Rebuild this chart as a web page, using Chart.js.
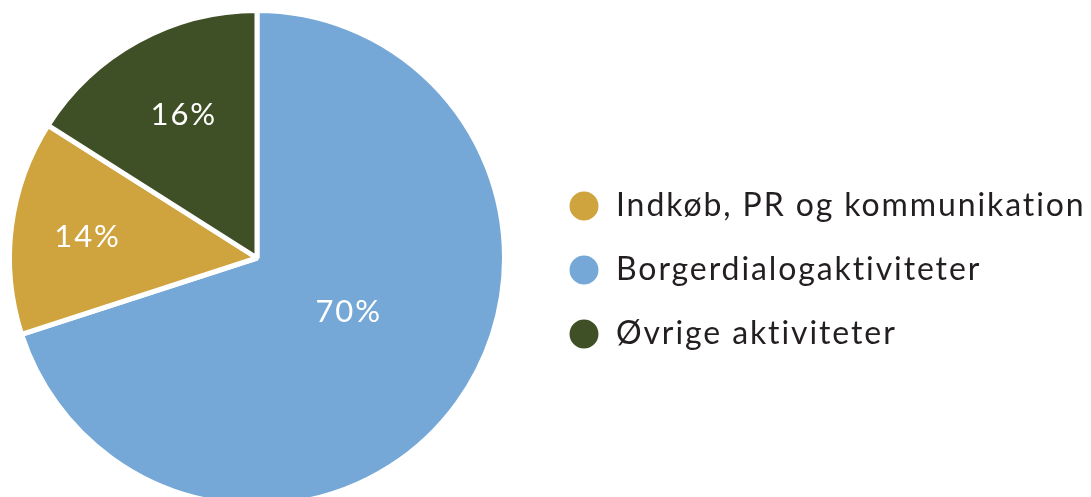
<!DOCTYPE html>
<html>
<head>
<meta charset="utf-8">
<script src="https://cdn.jsdelivr.net/npm/chart.js@4"></script>
<style>
  html, body { margin: 0; padding: 0; background: #fff; overflow: hidden; width: 1091px; height: 497px; }
  body { position: relative; }
  #wrap { position: absolute; left: -22px; top: 0; width: 1136px; height: 516px; }
</style>
</head>
<body>
<div id="wrap"><canvas id="c"></canvas></div>
<script>
const categories = ['Borgerdialogaktiviteter', 'Indkøb, PR og kommunikation', 'Øvrige aktiviteter'];
const shares = [70, 14, 16];
const sliceLabels = ['70%', '14%', '16%'];
const colors = ['#75a8d6', '#cfa33e', '#405026'];
const legendOrder = [1, 0, 2];
const labelRadius = [0.43, 0.69, 0.65];
const labelArcFrac = [0.478, 0.5, 0.53];

const FONT = 'Lato, "Open Sans", sans-serif';
const TRACKING = '1.9px';

const trackingPlugin = {
  id: 'tracking',
  beforeUpdate(chart) { chart.ctx.letterSpacing = TRACKING; },
  beforeDraw(chart) { chart.ctx.letterSpacing = TRACKING; }
};

const sliceLabelPlugin = {
  id: 'sliceLabels',
  afterDatasetsDraw(chart) {
    const ctx = chart.ctx;
    const meta = chart.getDatasetMeta(0);
    ctx.save();
    ctx.fillStyle = '#ffffff';
    ctx.font = '400 31px ' + FONT;
    ctx.textAlign = 'center';
    ctx.textBaseline = 'middle';
    meta.data.forEach((arc, i) => {
      const p = arc.getProps(['x', 'y', 'startAngle', 'endAngle', 'outerRadius'], true);
      const a = p.startAngle + (p.endAngle - p.startAngle) * labelArcFrac[i];
      const r = p.outerRadius * labelRadius[i];
      ctx.fillText(sliceLabels[i], p.x + Math.cos(a) * r, p.y + Math.sin(a) * r);
    });
    ctx.restore();
  }
};

new Chart(document.getElementById('c'), {
  type: 'pie',
  data: {
    labels: categories,
    datasets: [{
      data: shares,
      backgroundColor: colors,
      borderColor: '#ffffff',
      borderWidth: 5,
      hoverOffset: 0
    }]
  },
  options: {
    responsive: true,
    maintainAspectRatio: false,
    animation: false,
    events: [],
    layout: { padding: { left: 0, right: 20, top: 8, bottom: 8 } },
    plugins: {
      tooltip: { enabled: false },
      legend: {
        position: 'right',
        align: 'center',
        title: { display: true, text: ' ', font: { size: 10, lineHeight: 1.2 }, padding: 6 },
        labels: {
          usePointStyle: true,
          pointStyle: 'circle',
          boxHeight: 24,
          padding: 32,
          color: '#231f20',
          font: { family: FONT, size: 32, weight: '400' },
          sort: (a, b) => legendOrder[a.index] - legendOrder[b.index]
        }
      }
    }
  },
  plugins: [trackingPlugin, sliceLabelPlugin]
});
</script>
</body>
</html>
